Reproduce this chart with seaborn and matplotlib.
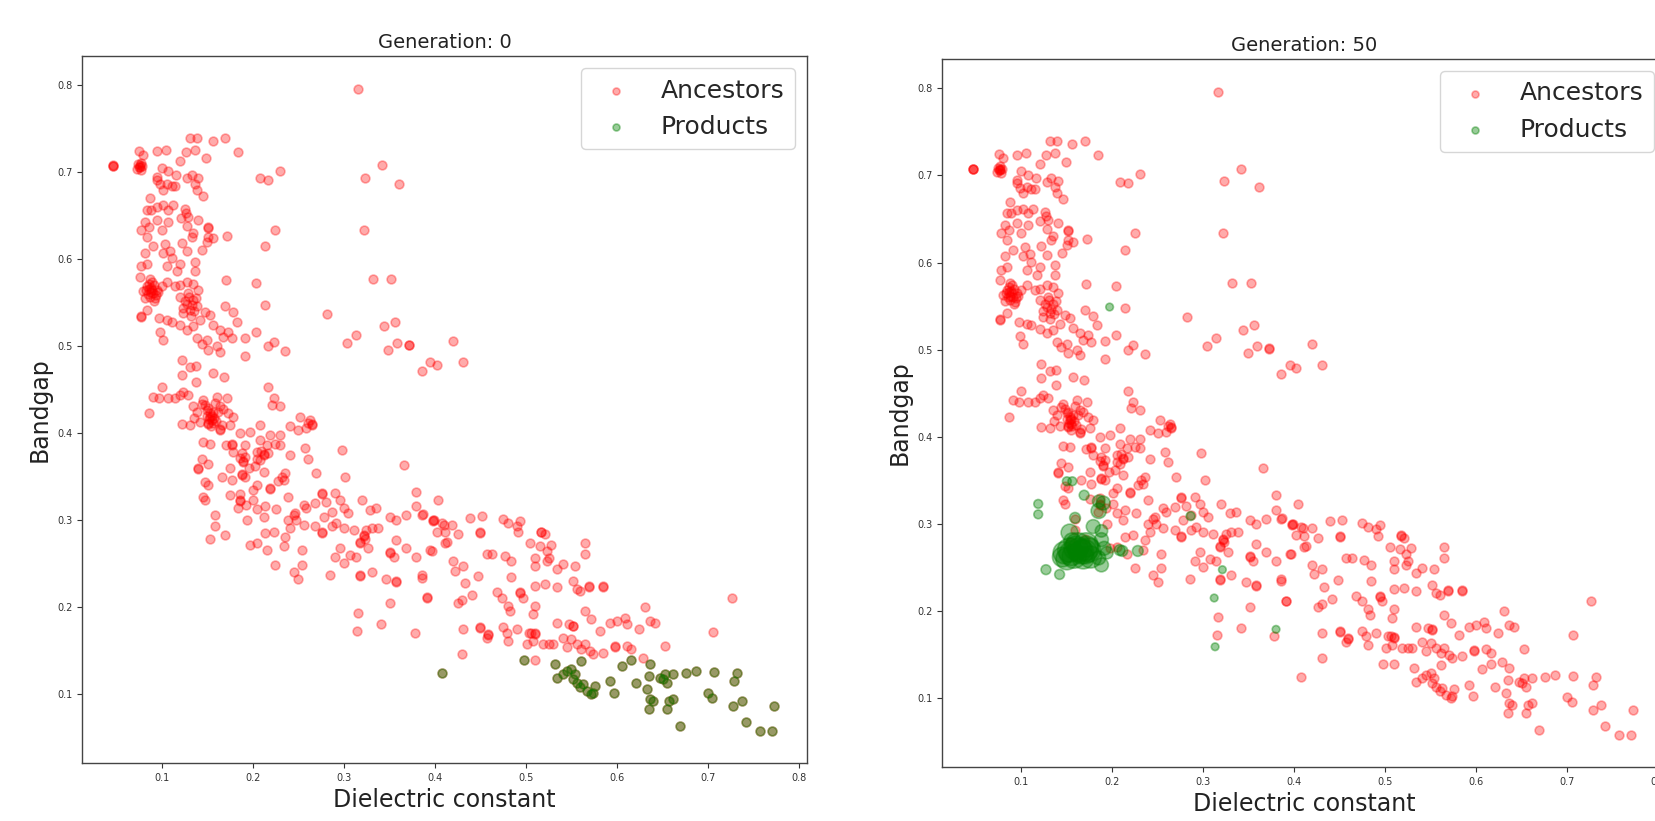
import numpy as np
import matplotlib
matplotlib.use("Agg")
import matplotlib.pyplot as plt
import seaborn as sns

# ancestors (same set in both panels)
anc_top = [
    (0.316, 0.796),
    (0.047, 0.707), (0.047, 0.707), (0.047, 0.708),
    (0.075, 0.725), (0.080, 0.720), (0.076, 0.708), (0.078, 0.703), (0.075, 0.706), (0.076, 0.706),
    (0.095, 0.724), (0.105, 0.726), (0.120, 0.713), (0.127, 0.723), (0.137, 0.726),
    (0.131, 0.739), (0.139, 0.739), (0.156, 0.736), (0.170, 0.739), (0.149, 0.716), (0.184, 0.723),
    (0.100, 0.705), (0.107, 0.701), (0.095, 0.691), (0.098, 0.686), (0.106, 0.687), (0.111, 0.684),
    (0.102, 0.680), (0.116, 0.697), (0.115, 0.684), (0.095, 0.695),
    (0.128, 0.693), (0.133, 0.697), (0.140, 0.694), (0.137, 0.687), (0.139, 0.680), (0.146, 0.673),
    (0.208, 0.693), (0.217, 0.691), (0.230, 0.702),
    (0.342, 0.708), (0.323, 0.694), (0.361, 0.687), (0.322, 0.634), (0.332, 0.577), (0.352, 0.577),
    (0.087, 0.670),
    (0.084, 0.657), (0.089, 0.657), (0.095, 0.660), (0.107, 0.657), (0.113, 0.662), (0.082, 0.643),
    (0.086, 0.637), (0.095, 0.645), (0.100, 0.634), (0.107, 0.643), (0.078, 0.634), (0.084, 0.626),
    (0.127, 0.653), (0.129, 0.649), (0.128, 0.638), (0.135, 0.630), (0.133, 0.626), (0.140, 0.645),
    (0.150, 0.620), (0.151, 0.626), (0.157, 0.624), (0.172, 0.627), (0.151, 0.636), (0.151, 0.637),
    (0.225, 0.634), (0.214, 0.615),
    (0.091, 0.615), (0.102, 0.607), (0.109, 0.610), (0.122, 0.619), (0.128, 0.609), (0.120, 0.595),
    (0.111, 0.601), (0.137, 0.597), (0.106, 0.592), (0.117, 0.586), (0.137, 0.586), (0.078, 0.592),
    (0.084, 0.595), (0.082, 0.607), (0.076, 0.580),
    (0.171, 0.576), (0.204, 0.573),
]

anc_mid = [
    (0.084, 0.569), (0.091, 0.561), (0.095, 0.565), (0.087, 0.557), (0.080, 0.563), (0.100, 0.569),
    (0.106, 0.574), (0.115, 0.569), (0.089, 0.567), (0.093, 0.555), (0.086, 0.572), (0.090, 0.565),
    (0.085, 0.560),
    (0.120, 0.557), (0.128, 0.549), (0.131, 0.542), (0.124, 0.544), (0.135, 0.553), (0.140, 0.565),
    (0.120, 0.570), (0.128, 0.574), (0.135, 0.572), (0.139, 0.546),
    (0.214, 0.548), (0.077, 0.534), (0.077, 0.535), (0.084, 0.542), (0.098, 0.516), (0.102, 0.507),
    (0.097, 0.532), (0.106, 0.530), (0.111, 0.528), (0.120, 0.524), (0.128, 0.519), (0.135, 0.523),
    (0.142, 0.530), (0.148, 0.540), (0.153, 0.536), (0.157, 0.525), (0.164, 0.519), (0.168, 0.511),
    (0.173, 0.517), (0.177, 0.509), (0.170, 0.546), (0.179, 0.539), (0.183, 0.528), (0.150, 0.507),
    (0.139, 0.509), (0.144, 0.503), (0.151, 0.496), (0.161, 0.500), (0.164, 0.494),
    (0.192, 0.510), (0.204, 0.517), (0.192, 0.489), (0.217, 0.500), (0.223, 0.505), (0.236, 0.495),
    (0.122, 0.484), (0.131, 0.476), (0.138, 0.477), (0.122, 0.467), (0.157, 0.469), (0.169, 0.465),
    (0.138, 0.459),
    (0.217, 0.453), (0.100, 0.453), (0.091, 0.442), (0.097, 0.440), (0.107, 0.440), (0.115, 0.440),
    (0.120, 0.444), (0.124, 0.448), (0.086, 0.423),
    (0.129, 0.444), (0.135, 0.431), (0.139, 0.425), (0.144, 0.434), (0.150, 0.427), (0.153, 0.419),
    (0.155, 0.415), (0.161, 0.442), (0.164, 0.431), (0.172, 0.440), (0.173, 0.423), (0.179, 0.419),
    (0.153, 0.423), (0.151, 0.429), (0.157, 0.425), (0.155, 0.420),
    (0.223, 0.440), (0.221, 0.433), (0.230, 0.431), (0.252, 0.419), (0.263, 0.415),
    (0.282, 0.537), (0.304, 0.504), (0.314, 0.513), (0.344, 0.523), (0.356, 0.528), (0.349, 0.496),
    (0.359, 0.504), (0.372, 0.502), (0.372, 0.501), (0.420, 0.506), (0.386, 0.472), (0.395, 0.482),
    (0.402, 0.479), (0.431, 0.482),
]

anc_band = [
    (0.122, 0.411), (0.131, 0.410), (0.151, 0.411), (0.151, 0.412), (0.164, 0.404), (0.164, 0.405),
    (0.175, 0.410), (0.186, 0.400), (0.197, 0.402), (0.208, 0.410), (0.219, 0.398), (0.230, 0.398),
    (0.241, 0.408), (0.250, 0.404), (0.259, 0.406), (0.265, 0.411), (0.265, 0.410),
    (0.146, 0.390), (0.153, 0.388), (0.177, 0.387), (0.177, 0.388), (0.192, 0.387), (0.205, 0.379),
    (0.212, 0.375), (0.212, 0.376), (0.217, 0.377), (0.208, 0.392), (0.216, 0.387), (0.225, 0.388),
    (0.230, 0.387), (0.241, 0.375), (0.258, 0.383), (0.261, 0.371),
    (0.192, 0.373), (0.190, 0.367), (0.190, 0.368), (0.179, 0.379),
    (0.144, 0.370), (0.151, 0.365), (0.140, 0.359), (0.140, 0.360), (0.166, 0.350), (0.175, 0.360),
    (0.177, 0.346), (0.188, 0.352), (0.188, 0.353), (0.192, 0.350), (0.203, 0.362), (0.212, 0.356),
    (0.208, 0.369), (0.232, 0.350), (0.234, 0.346), (0.236, 0.354), (0.270, 0.354), (0.298, 0.381),
    (0.302, 0.350), (0.366, 0.364),
    (0.148, 0.344), (0.151, 0.341), (0.146, 0.327), (0.148, 0.323), (0.175, 0.329), (0.186, 0.323),
    (0.186, 0.322), (0.184, 0.314), (0.201, 0.335), (0.205, 0.341), (0.201, 0.323), (0.219, 0.337),
    (0.219, 0.336), (0.214, 0.316), (0.226, 0.313), (0.239, 0.327), (0.247, 0.308), (0.256, 0.318),
    (0.259, 0.314), (0.269, 0.320), (0.276, 0.331), (0.276, 0.330), (0.281, 0.321), (0.291, 0.331),
    (0.296, 0.323), (0.287, 0.310), (0.278, 0.304), (0.300, 0.314), (0.305, 0.308), (0.320, 0.323),
    (0.329, 0.312), (0.336, 0.314), (0.380, 0.333), (0.404, 0.323),
    (0.159, 0.306), (0.159, 0.293), (0.153, 0.279), (0.170, 0.283), (0.194, 0.300), (0.197, 0.272),
    (0.205, 0.274), (0.212, 0.304), (0.214, 0.285), (0.223, 0.287), (0.236, 0.281), (0.241, 0.291),
    (0.256, 0.295), (0.245, 0.306), (0.239, 0.300), (0.248, 0.300), (0.269, 0.293), (0.276, 0.285),
    (0.276, 0.286), (0.287, 0.293), (0.292, 0.297), (0.300, 0.291), (0.311, 0.289), (0.322, 0.283),
    (0.322, 0.282), (0.325, 0.289), (0.331, 0.291), (0.338, 0.291), (0.318, 0.274), (0.318, 0.275),
    (0.323, 0.279), (0.327, 0.268), (0.351, 0.304), (0.358, 0.300), (0.369, 0.306), (0.380, 0.316),
    (0.386, 0.306), (0.399, 0.300), (0.410, 0.295), (0.413, 0.275), (0.402, 0.287),
    (0.216, 0.266), (0.234, 0.270), (0.254, 0.266), (0.225, 0.249), (0.254, 0.249), (0.245, 0.241),
    (0.250, 0.233), (0.285, 0.237), (0.291, 0.258), (0.296, 0.268), (0.300, 0.251), (0.307, 0.260),
    (0.314, 0.258), (0.318, 0.237), (0.318, 0.236), (0.331, 0.241), (0.347, 0.233), (0.358, 0.230),
    (0.358, 0.229), (0.351, 0.262), (0.351, 0.263), (0.355, 0.258), (0.358, 0.277), (0.369, 0.268),
    (0.380, 0.258), (0.395, 0.266), (0.386, 0.237), (0.391, 0.212), (0.351, 0.205), (0.316, 0.193),
    (0.315, 0.173), (0.341, 0.181), (0.378, 0.171),
]

anc_low = [
    (0.387, 0.307), (0.398, 0.299), (0.398, 0.300), (0.408, 0.297), (0.419, 0.295), (0.411, 0.286),
    (0.426, 0.284), (0.439, 0.303), (0.452, 0.305), (0.450, 0.285), (0.450, 0.286), (0.475, 0.301),
    (0.481, 0.297), (0.490, 0.294), (0.494, 0.299), (0.492, 0.286), (0.517, 0.286), (0.517, 0.287),
    (0.521, 0.284), (0.505, 0.274), (0.516, 0.271), (0.523, 0.265), (0.525, 0.257), (0.528, 0.272),
    (0.523, 0.253), (0.565, 0.274), (0.565, 0.261),
    (0.397, 0.265), (0.411, 0.274), (0.420, 0.253), (0.422, 0.242), (0.431, 0.248), (0.457, 0.261),
    (0.463, 0.261), (0.477, 0.259), (0.484, 0.253), (0.510, 0.257), (0.510, 0.248), (0.534, 0.244),
    (0.541, 0.250), (0.554, 0.248),
    (0.386, 0.234), (0.433, 0.228), (0.448, 0.236), (0.484, 0.235), (0.510, 0.225), (0.521, 0.227),
    (0.534, 0.223), (0.552, 0.230), (0.556, 0.221), (0.560, 0.219), (0.569, 0.223), (0.569, 0.224),
    (0.585, 0.223), (0.585, 0.224),
    (0.391, 0.211), (0.426, 0.205), (0.430, 0.208), (0.441, 0.214), (0.468, 0.217), (0.474, 0.211),
    (0.481, 0.202), (0.483, 0.196), (0.494, 0.217), (0.494, 0.216), (0.497, 0.211), (0.510, 0.202),
    (0.508, 0.192), (0.565, 0.196), (0.572, 0.186), (0.592, 0.182), (0.600, 0.184), (0.609, 0.188),
    (0.611, 0.181), (0.631, 0.200), (0.636, 0.184), (0.642, 0.182),
    (0.431, 0.175), (0.450, 0.177), (0.450, 0.176), (0.459, 0.169), (0.459, 0.168), (0.457, 0.165),
    (0.475, 0.177), (0.479, 0.171), (0.481, 0.161), (0.490, 0.175), (0.503, 0.171), (0.506, 0.171),
    (0.510, 0.169), (0.510, 0.170), (0.508, 0.161), (0.501, 0.158), (0.519, 0.158), (0.525, 0.158),
    (0.530, 0.158), (0.534, 0.182), (0.547, 0.181), (0.552, 0.179), (0.552, 0.178), (0.541, 0.165),
    (0.545, 0.154), (0.550, 0.163), (0.556, 0.158), (0.561, 0.152), (0.565, 0.158), (0.570, 0.150),
    (0.574, 0.146), (0.581, 0.173), (0.585, 0.148), (0.598, 0.154), (0.598, 0.155), (0.611, 0.156),
    (0.616, 0.152), (0.624, 0.175), (0.653, 0.156), (0.706, 0.172), (0.726, 0.211),
    (0.430, 0.146), (0.510, 0.139), (0.629, 0.142),
]

# overlapping points in the darkest clusters
anc_dense = [
    (0.074, 0.709), (0.077, 0.711), (0.073, 0.704), (0.079, 0.707),
    (0.086, 0.566), (0.088, 0.562), (0.092, 0.570), (0.094, 0.559), (0.083, 0.565), (0.090, 0.574),
    (0.087, 0.577), (0.096, 0.562), (0.082, 0.556), (0.092, 0.552),
    (0.126, 0.552), (0.130, 0.557), (0.133, 0.547), (0.129, 0.561), (0.136, 0.541), (0.124, 0.538),
    (0.132, 0.535), (0.138, 0.556),
    (0.152, 0.416), (0.156, 0.412), (0.158, 0.418), (0.150, 0.420), (0.154, 0.408), (0.160, 0.414),
    (0.148, 0.432), (0.162, 0.425), (0.146, 0.438), (0.168, 0.428), (0.159, 0.435), (0.166, 0.409),
    (0.136, 0.418), (0.142, 0.413),
    (0.186, 0.372), (0.188, 0.377), (0.205, 0.371), (0.209, 0.380), (0.171, 0.386), (0.196, 0.360),
    (0.186, 0.330), (0.193, 0.318), (0.205, 0.313), (0.228, 0.345), (0.261, 0.412),
    (0.121, 0.648), (0.126, 0.658), (0.102, 0.662), (0.104, 0.618), (0.145, 0.611),
]

# products of generation 0 (they are also part of the ancestor pool)
prod0 = [
    (0.408, 0.124), (0.498, 0.139),
    (0.532, 0.135), (0.534, 0.119), (0.545, 0.127), (0.550, 0.129), (0.554, 0.123), (0.556, 0.113),
    (0.560, 0.108), (0.563, 0.112), (0.567, 0.104), (0.572, 0.100), (0.576, 0.110), (0.574, 0.102),
    (0.561, 0.138), (0.541, 0.123), (0.552, 0.117),
    (0.592, 0.115), (0.597, 0.102), (0.606, 0.133), (0.616, 0.139), (0.621, 0.113),
    (0.636, 0.135), (0.635, 0.121), (0.633, 0.106), (0.636, 0.094), (0.635, 0.083), (0.640, 0.092),
    (0.647, 0.119), (0.653, 0.123), (0.655, 0.113), (0.662, 0.123), (0.657, 0.092), (0.655, 0.083),
    (0.662, 0.094), (0.651, 0.117),
    (0.676, 0.124), (0.687, 0.127), (0.707, 0.126), (0.732, 0.124), (0.729, 0.115), (0.700, 0.101),
    (0.705, 0.096), (0.728, 0.087), (0.737, 0.092), (0.669, 0.063), (0.742, 0.068), (0.757, 0.058),
    (0.770, 0.058), (0.773, 0.086),
]

# products of generation 50: (x, y, marker size)
prod50 = [
    (0.1185, 0.323, 40), (0.1185, 0.311, 40), (0.150, 0.349, 40), (0.156, 0.349, 40),
    (0.169, 0.333, 50), (0.159, 0.307, 60), (0.185, 0.326, 80), (0.190, 0.324, 100),
    (0.185, 0.315, 120), (0.179, 0.297, 100), (0.188, 0.292, 80), (0.153, 0.290, 150),
    (0.156, 0.280, 150),
    (0.147, 0.267, 250), (0.150, 0.260, 250), (0.153, 0.270, 300), (0.158, 0.263, 300),
    (0.162, 0.276, 300), (0.166, 0.268, 300), (0.171, 0.276, 300), (0.174, 0.270, 300),
    (0.176, 0.262, 250), (0.168, 0.261, 250), (0.160, 0.272, 300), (0.145, 0.262, 200),
    (0.170, 0.268, 300), (0.155, 0.266, 300), (0.164, 0.270, 300), (0.172, 0.272, 300),
    (0.188, 0.282, 100), (0.191, 0.272, 100), (0.188, 0.253, 100), (0.185, 0.261, 100),
    (0.194, 0.267, 80), (0.208, 0.270, 60), (0.211, 0.269, 60), (0.228, 0.269, 60),
    (0.127, 0.2475, 50), (0.142, 0.242, 50), (0.286, 0.309, 40), (0.321, 0.2475, 30),
    (0.312, 0.215, 30), (0.313, 0.159, 30), (0.380, 0.179, 30), (0.197, 0.549, 30),
]

ancestors = np.array(anc_top + anc_mid + anc_band + anc_low + anc_dense + prod0)
p0 = np.array(prod0)
p50 = np.array(prod50)

sns.set_style("ticks")
plt.rcParams['font.family'] = ['DejaVu Sans']

fig = plt.figure(figsize=(16.55, 8.21), dpi=100)
ax1 = fig.add_axes([82 / 1655, 58 / 821, 725 / 1655, 707 / 821])
ax2 = fig.add_axes([942 / 1655, 54 / 821, 724 / 1655, 708 / 821])

panels = [
    (ax1, "Generation: 0", p0[:, 0], p0[:, 1], 40),
    (ax2, "Generation: 50", p50[:, 0], p50[:, 1], p50[:, 2]),
]

for ax, title, px, py, ps in panels:
    sns.scatterplot(x=ancestors[:, 0], y=ancestors[:, 1], color="red", alpha=0.33, s=40,
                    edgecolor="face", linewidth=1.2, label="Ancestors", ax=ax)
    sns.scatterplot(x=px, y=py, color="green", alpha=0.4, s=ps,
                    edgecolor="face", linewidth=1.2, label="Products", ax=ax)
    ax.set_xlim(0.0127, 0.8088)
    ax.set_ylim(0.021, 0.8337)
    ax.set_xticks([0.1, 0.2, 0.3, 0.4, 0.5, 0.6, 0.7, 0.8])
    ax.set_yticks([0.1, 0.2, 0.3, 0.4, 0.5, 0.6, 0.7, 0.8])
    ax.tick_params(labelsize=7, length=3.5, width=0.8, colors="#333333")
    for sp in ax.spines.values():
        sp.set_visible(True)
        sp.set_color("#444444")
        sp.set_linewidth(1.0)
    ax.set_title(title, fontsize=14, color="#222222")
    ax.set_xlabel("Dielectric constant", fontsize=17, color="#222222")
    ax.set_ylabel("Bandgap", fontsize=17, color="#222222")
    leg = ax.legend(loc="upper right", fontsize=18, frameon=True)
    for h in leg.legend_handles:
        h.set_sizes([25])

fig.savefig("out.png", dpi=100)
